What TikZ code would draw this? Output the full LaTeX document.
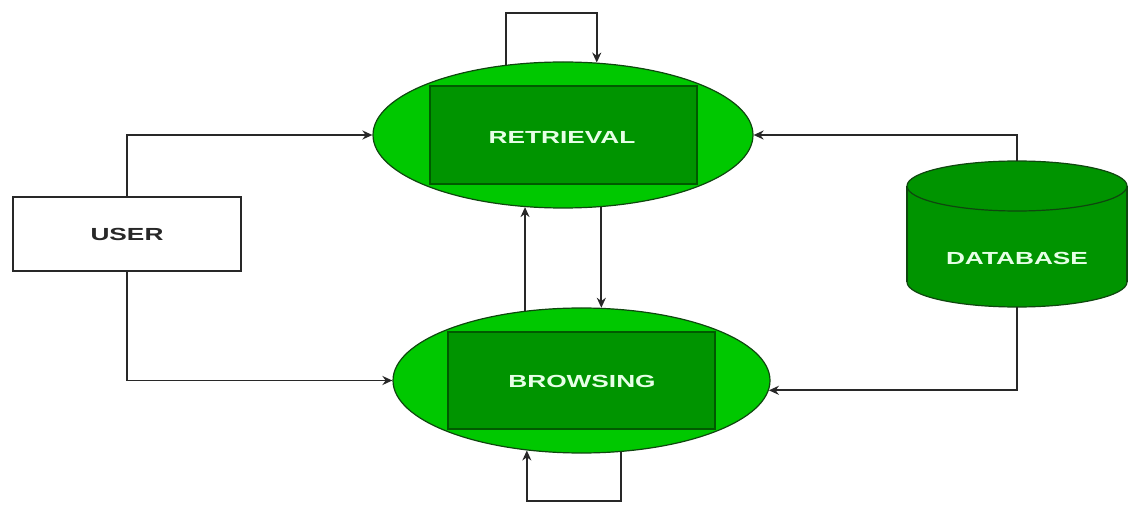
\documentclass[tikz,border=0pt]{standalone}
\usepackage{fontspec}
\setmainfont{Liberation Sans}
\usetikzlibrary{shapes.geometric,arrows.meta}
\definecolor{lgreen}{RGB}{0,200,0}
\definecolor{dgreen}{RGB}{0,148,0}
\definecolor{egreen}{RGB}{15,70,15}
\definecolor{rgreen}{RGB}{0,90,0}
\definecolor{txtg}{RGB}{230,255,230}
\definecolor{linec}{RGB}{40,40,40}
\tikzset{
  oval/.style={ellipse,draw=egreen,line width=1.2pt,fill=lgreen,minimum width=#1,minimum height=146pt,inner sep=0pt},
  inbox/.style={rectangle,draw=rgreen,line width=1.2pt,fill=dgreen,inner sep=0pt},
  lbl/.style={font=\fontsize{17.5}{20}\selectfont\bfseries,text=txtg},
  userbox/.style={rectangle,draw=linec,line width=1.6pt,fill=white,minimum width=228pt,minimum height=74pt,inner sep=0pt,font=\fontsize{17.5}{20}\selectfont\bfseries,text=linec},
  arr/.style={draw=linec,line width=1.7pt,-{Stealth[length=10pt,width=9pt]}},
  ln/.style={draw=linec,line width=1.7pt}
}
\newcommand{\wide}[1]{\scalebox{1.5}[1]{#1}}
\begin{document}
\begin{tikzpicture}[x=1pt,y=-1pt]
\useasboundingbox (0,0) rectangle (1128,505);
% ellipses
\node[oval=380pt] (ret) at (563,135) {};
\node[inbox,minimum width=267pt,minimum height=98pt] (retbox) at (563.5,135) {};
\node[lbl] (rettxt) at (562,137) {\wide{RETRIEVAL}};
\node[oval=377pt,minimum height=145pt] (bro) at (581.5,380.5) {};
\node[inbox,minimum width=267pt,minimum height=97pt] (brobox) at (581.5,380.5) {};
\node[lbl] (brotxt) at (582,381) {\wide{BROWSING}};
% user
\node[userbox] (user) at (127,234) {\wide{USER}};
% database cylinder
\node[rectangle,minimum width=220pt,minimum height=146pt,inner sep=0pt] (db) at (1017,234) {};
\fill[dgreen,draw=egreen,line width=1.2pt] (1017,282) ellipse [x radius=110, y radius=25];
\fill[dgreen] (907,186) rectangle (1127,282);
\draw[egreen,line width=1.2pt] (907,186) -- (907,282) (1127,186) -- (1127,282);
\fill[dgreen,draw=egreen,line width=1.2pt] (1017,186) ellipse [x radius=110, y radius=25];
\node[lbl] (dbtxt) at (1017,258) {\wide{DATABASE}};
% connectors
\draw[arr] (user.north) |- (ret.west);
\draw[arr] (user.south) |- (bro.west);
\draw[arr] (db.north) |- (ret.east);
\draw[arr] (db.south) |- (bro.-3.7);
\draw[arr] (bro.129.2) -- (bro.129.2 |- ret.-118);
\draw[arr] (ret.-62.7) -- (ret.-62.7 |- bro.75.1);
% self loops
\coordinate (rtop) at (0,13);
\draw[arr] (ret.129.8) -- (ret.129.8 |- rtop) -| (ret.65.3);
\coordinate (bbot) at (0,501);
\draw[arr] (bro.-61) -- (bro.-61 |- bbot) -| (bro.-128);
\end{tikzpicture}
\end{document}
